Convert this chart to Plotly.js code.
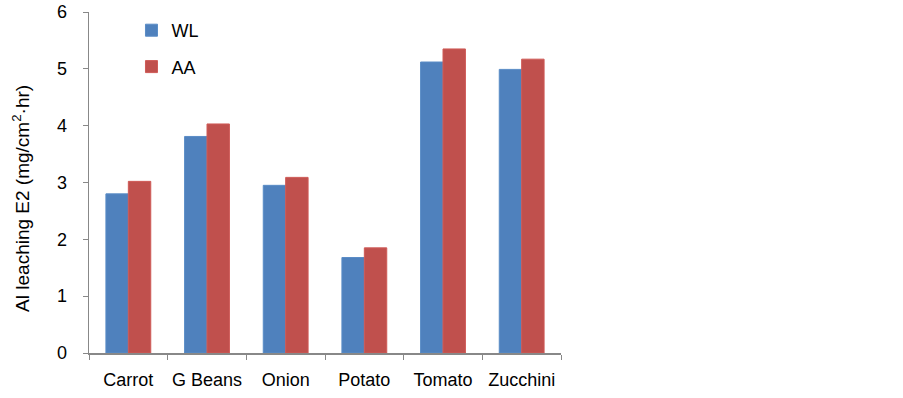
<!DOCTYPE html>
<html>
<head>
<meta charset="utf-8">
<script src="https://cdn.plot.ly/plotly-3.0.1.min.js"></script>
<style>html,body{margin:0;padding:0;background:#fff;}#chart{width:903px;height:398px;}</style>
</head>
<body>
<div id="chart"></div>
<script>
const categories = ["Carrot", "G Beans", "Onion", "Potato", "Tomato", "Zucchini"];
const wlValues = [2.80, 3.81, 2.95, 1.68, 5.12, 4.99];
const aaValues = [3.02, 4.03, 3.09, 1.85, 5.35, 5.17];
const yTicks = [0, 1, 2, 3, 4, 5, 6];
const yTitle = "Al leaching E2 (mg/cm<sup>2</sup>·hr)";

const family = "Liberation Sans, Arial, sans-serif";
const tickFont = {family: family, size: 18, color: "#000"};
const titleFont = {family: family, size: 19, color: "#000"};

const traces = [
  {type: "bar", name: "WL", x: categories, y: wlValues, legendgroup: "a",
   marker: {color: "#4F81BD", line: {color: "#5a8cc6", width: 1}}},
  {type: "bar", name: "AA", x: categories, y: aaValues, legendgroup: "b",
   marker: {color: "#C0504D", line: {color: "#cf5a56", width: 1}}}
];

const layout = {
  width: 903, height: 398,
  margin: {l: 89, r: 342, t: 12, b: 45},
  paper_bgcolor: "#fff", plot_bgcolor: "#fff",
  font: tickFont,
  barmode: "group",
  bargap: 0.43,
  bargroupgap: 0,
  showlegend: true,
  legend: {x: 0.09, y: 1.0, xanchor: "left", yanchor: "top", font: tickFont,
           tracegroupgap: 10, traceorder: "grouped", bgcolor: "rgba(0,0,0,0)"},
  xaxis: {
    type: "category", tickson: "boundaries", ticks: "outside", ticklen: 5,
    tickangle: 0,
    tickcolor: "#888", showline: true, linecolor: "#888", linewidth: 1.5,
    showgrid: false, zeroline: false, tickfont: tickFont, ticklabelstandoff: 10
  },
  yaxis: {
    range: [0, 6], tickvals: yTicks, ticks: "outside", ticklen: 5,
    tickcolor: "#888", showline: true, linecolor: "#888", linewidth: 1.5,
    showgrid: false, zeroline: false, tickfont: tickFont, ticklabelstandoff: 12
  },
  annotations: [{
    text: yTitle, textangle: -90, showarrow: false,
    xref: "paper", yref: "paper", x: -0.144, y: 0.452,
    xanchor: "center", yanchor: "middle", font: titleFont
  }]
};

Plotly.newPlot("chart", traces, layout, {displayModeBar: false, staticPlot: true});
</script>
</body>
</html>
